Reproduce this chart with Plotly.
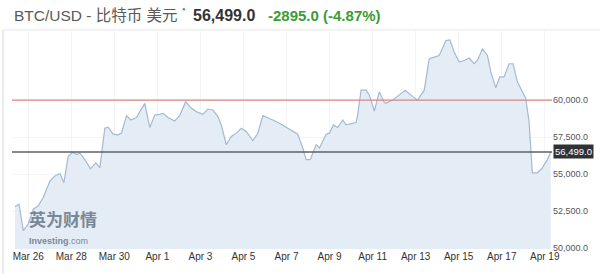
import plotly.graph_objects as go

times = [
    "2021-03-25 09:12", "2021-03-25 13:39", "2021-03-25 18:26", "2021-03-26 00:00",
    "2021-03-26 05:34", "2021-03-26 11:08", "2021-03-26 16:42", "2021-03-27 00:09",
    "2021-03-27 05:43", "2021-03-27 11:17", "2021-03-27 15:44", "2021-03-27 20:31",
    "2021-03-28 01:25", "2021-03-28 05:53", "2021-03-28 09:33", "2021-03-28 15:07",
    "2021-03-28 21:27", "2021-03-29 03:22", "2021-03-29 07:49", "2021-03-29 13:23",
    "2021-03-29 17:02", "2021-03-29 22:36", "2021-03-30 04:10", "2021-03-30 07:58",
    "2021-03-30 13:32", "2021-03-30 18:19", "2021-03-31 00:40", "2021-03-31 09:55",
    "2021-03-31 15:29", "2021-03-31 21:03", "2021-04-01 02:37", "2021-04-01 06:17",
    "2021-04-01 11:51", "2021-04-01 19:18", "2021-04-02 00:52", "2021-04-02 07:32",
    "2021-04-02 13:54", "2021-04-02 19:28", "2021-04-03 02:48", "2021-04-03 08:22",
    "2021-04-03 13:56", "2021-04-03 19:30", "2021-04-03 23:17", "2021-04-04 04:51",
    "2021-04-04 10:25", "2021-04-04 15:59", "2021-04-04 21:33", "2021-04-05 03:07",
    "2021-04-05 10:28", "2021-04-05 16:02", "2021-04-05 21:36", "2021-04-06 03:10",
    "2021-04-06 08:44", "2021-04-06 16:11", "2021-04-06 23:38", "2021-04-07 06:59",
    "2021-04-07 12:33", "2021-04-07 18:07", "2021-04-07 21:55", "2021-04-08 02:22",
    "2021-04-08 09:03", "2021-04-08 12:43", "2021-04-08 20:10", "2021-04-08 23:51",
    "2021-04-09 04:18", "2021-04-09 09:06", "2021-04-09 14:38", "2021-04-09 18:26",
    "2021-04-10 05:34", "2021-04-10 07:21", "2021-04-10 11:08", "2021-04-10 16:42",
    "2021-04-10 20:22", "2021-04-11 01:56", "2021-04-11 07:30", "2021-04-11 13:05",
    "2021-04-11 14:57", "2021-04-11 22:19", "2021-04-12 05:46", "2021-04-12 12:27",
    "2021-04-12 18:48", "2021-04-13 02:10", "2021-04-13 09:36", "2021-04-13 15:10",
    "2021-04-13 20:44", "2021-04-14 02:18", "2021-04-14 09:45", "2021-04-14 14:12",
    "2021-04-14 18:59", "2021-04-15 00:33", "2021-04-15 06:07", "2021-04-15 11:41",
    "2021-04-15 17:15", "2021-04-15 20:56", "2021-04-16 02:30", "2021-04-16 08:04",
    "2021-04-16 11:51", "2021-04-16 17:25", "2021-04-16 21:52", "2021-04-17 02:38",
    "2021-04-17 08:12", "2021-04-17 12:40", "2021-04-17 17:27", "2021-04-18 02:48",
    "2021-04-18 06:29", "2021-04-18 10:09", "2021-04-18 15:43", "2021-04-18 21:17",
    "2021-04-19 02:51", "2021-04-19 06:39",
]

prices = [
    52818, 52972, 51192, 51634, 52638, 52865, 53421, 54539,
    54873, 55047, 54425, 56212, 56480, 56319, 56433, 55984,
    55362, 55763, 55429, 58106, 58173, 57704, 57657, 57771,
    58956, 58661, 58822, 59779, 58153, 58996, 59043, 59110,
    58822, 58594, 58956, 59893, 59444, 59224, 59043, 59398,
    59331, 58889, 58327, 56988, 57550, 57771, 58106, 57885,
    57256, 57771, 58956, 58822, 58661, 58440, 58153, 57885,
    57704, 56767, 55984, 55984, 56988, 56767, 57704, 57771,
    58327, 58153, 58661, 58327, 58487, 58996, 60669, 60669,
    60335, 59264, 60562, 59846, 59779, 60000, 60335, 60669,
    60335, 60000, 60669, 62791, 62905, 63012, 64016, 64063,
    63239, 62570, 62677, 62838, 62456, 62677, 63460, 63012,
    61901, 60830, 61566, 61566, 62456, 62456, 61231, 60114,
    58554, 55094, 55094, 55429, 55984, 56499,
]

tick_dates = ["2021-03-26", "2021-03-28", "2021-03-30", "2021-04-01", "2021-04-03",
              "2021-04-05", "2021-04-07", "2021-04-09", "2021-04-11", "2021-04-13",
              "2021-04-15", "2021-04-17", "2021-04-19"]
tick_labels = ["Mar 26", "Mar 28", "Mar 30", "Apr 1", "Apr 3", "Apr 5", "Apr 7",
               "Apr 9", "Apr 11", "Apr 13", "Apr 15", "Apr 17", "Apr 19"]

y_ticks = [50000, 52500, 55000, 57500, 60000]
y_tick_labels = ["50,000.0", "52,500.0", "55,000.0", "57,500.0", "60,000.0"]

resistance = 60000
last_price = 56499
last_label = "56,499.0"
change_text = "-2895.0 (-4.87%)"
title_text = "BTC/USD - 比特币 美元"

fig = go.Figure()
fig.add_trace(go.Scatter(
    x=times, y=prices, mode="lines", fill="tozeroy",
    fillcolor="#e4edf6", line=dict(color="#a3bad0", width=1.2),
    hoverinfo="skip", showlegend=False,
))

fig.add_hline(y=resistance, line=dict(color="#d98682", width=1.2))
fig.add_hline(y=last_price, line=dict(color="#5c6166", width=1.6))

fig.update_layout(
    width=600, height=274,
    margin=dict(l=12, r=47, t=31, b=23),
    paper_bgcolor="white", plot_bgcolor="white",
    font=dict(family="Arial, Liberation Sans, sans-serif"),
    xaxis=dict(
        type="date",
        range=["2021-03-25 05:51", "2021-04-19 08:05"],
        tickvals=tick_dates, ticktext=tick_labels,
        tickfont=dict(size=10, color="#333333"),
        showgrid=True, gridcolor="#f2f4f7", gridwidth=1,
        zeroline=False, showline=False, ticks="",
    ),
    yaxis=dict(
        side="right", range=[49950, 64665],
        tickvals=y_ticks, ticktext=y_tick_labels,
        tickfont=dict(size=9, color="#555555"),
        showgrid=True, gridcolor="#f2f4f7", gridwidth=1,
        zeroline=False, showline=False, ticks="", ticklen=4,
    ),
)

# Last price label box
fig.add_annotation(
    x=1.0, xref="paper", y=last_price, yref="y",
    xanchor="left", yanchor="middle", showarrow=False,
    text=last_label, font=dict(size=9.5, color="white"),
    bgcolor="#2e3236", borderpad=1, xshift=1,
)

# Header
fig.add_annotation(
    x=0, xref="paper", y=1.073, yref="paper", xanchor="left", yanchor="middle",
    showarrow=False,
    text=title_text,
    font=dict(size=15.5, color="#5a5a5a", family="Arial, Noto Sans CJK SC, sans-serif"),
)
fig.add_annotation(
    x=0.312, xref="paper", y=1.10, yref="paper", xanchor="left", yanchor="middle",
    showarrow=False, text="●", font=dict(size=6, color="#3aa64a"),
)
fig.add_annotation(
    x=0.331, xref="paper", y=1.073, yref="paper", xanchor="left", yanchor="middle",
    showarrow=False, text="<b>" + last_label + "</b>",
    font=dict(size=16, color="#333333"),
)
fig.add_annotation(
    x=0.470, xref="paper", y=1.073, yref="paper", xanchor="left", yanchor="middle",
    showarrow=False, text="<b>" + change_text + "</b>",
    font=dict(size=15, color="#3d9b35"),
)

# Watermark
fig.add_annotation(
    x=0.028, xref="paper", y=0.14, yref="paper", xanchor="left", yanchor="middle",
    showarrow=False, text="<b>英为财情</b>",
    font=dict(size=17, color="#6f7d8c", family="Noto Sans CJK SC"),
    opacity=0.9,
)
fig.add_annotation(
    x=0.028, xref="paper", y=0.035, yref="paper", xanchor="left", yanchor="middle",
    showarrow=False, text="<b>Investing</b>.com",
    font=dict(size=9, color="#6f7d8c"),
    opacity=0.9,
)

# Outer frame lines
fig.add_shape(type="line", xref="paper", yref="paper",
              x0=-0.0166, x1=-0.0166, y0=-0.15, y1=1.005,
              line=dict(color="#d6d6d6", width=1))
fig.add_shape(type="line", xref="paper", yref="paper",
              x0=-0.0166, x1=1.1, y0=1.005, y1=1.005,
              line=dict(color="#e6e6e6", width=1))

fig.write_html("out.html")
